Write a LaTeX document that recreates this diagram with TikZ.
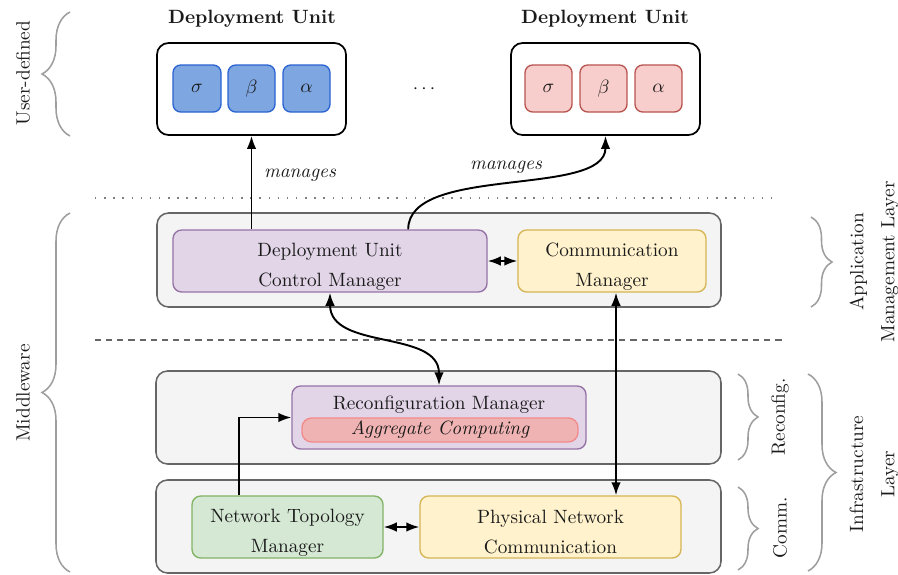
\documentclass[tikz,border=0pt]{standalone}
\usetikzlibrary{arrows.meta,decorations.pathreplacing,calc}

\definecolor{layerfill}{HTML}{F4F4F4}
\definecolor{layerdraw}{HTML}{666666}
\definecolor{bluefill}{HTML}{7EA6E0}
\definecolor{bluedraw}{HTML}{2A63D2}
\definecolor{redfill}{HTML}{F8CECC}
\definecolor{reddraw}{HTML}{B85450}
\definecolor{purplefill}{HTML}{E1D5E7}
\definecolor{purpledraw}{HTML}{9673A6}
\definecolor{yellowfill}{HTML}{FFF2CC}
\definecolor{yellowdraw}{HTML}{D6B656}
\definecolor{greenfill}{HTML}{D5E8D4}
\definecolor{greendraw}{HTML}{82B366}
\definecolor{aggfill}{HTML}{F0B3B3}
\definecolor{aggdraw}{HTML}{F28A8A}
\definecolor{bracecol}{HTML}{9E9E9E}
\definecolor{txt}{HTML}{1A1A1A}

\newcommand\unitpx{0.52pt}
% taller first line moves a two-line label slightly down inside its box
\newcommand\firststrut{\rule{0pt}{12.5pt}}

\tikzset{
  sz/.style 2 args={minimum width=#1*\unitpx, minimum height=#2*\unitpx, inner sep=0pt},
  layer/.style={draw=layerdraw, fill=layerfill, line width=0.8pt, rounded corners=6pt},
  unitbox/.style={draw=black, fill=white, line width=0.9pt, rounded corners=6pt},
  bluecell/.style={draw=bluedraw, fill=bluefill, line width=0.7pt, rounded corners=4pt, text=txt},
  redcell/.style={draw=reddraw, fill=redfill, line width=0.7pt, rounded corners=4pt, text=txt},
  comp/.style={line width=0.7pt, rounded corners=4.5pt, align=center, text=txt,
    font=\linespread{1.3}\selectfont},
  purplecomp/.style={comp, draw=purpledraw, fill=purplefill},
  yellowcomp/.style={comp, draw=yellowdraw, fill=yellowfill},
  greencomp/.style={comp, draw=greendraw, fill=greenfill},
  arr/.style={-{Latex[length=6.8pt,width=5pt]}, line width=1pt},
  darr/.style={{Latex[length=6.8pt,width=5pt]}-{Latex[length=6.8pt,width=5pt]}, line width=1pt},
  lbl/.style={font=\itshape, text=txt},
  bracedeco/.style={decorate, draw=bracecol, line width=0.8pt,
    decoration={brace, amplitude=#1*\unitpx}},
  sidelabel/.style={rotate=90, align=center, text=txt, font=\linespread{1.35}\selectfont},
}

\begin{document}
\begin{tikzpicture}[x=0.52pt, y=-0.52pt]
\useasboundingbox (0,0) rectangle (898,574);

% --- deployment units ---
\node[font=\bfseries, text=txt] (t1) at (252,19) {Deployment Unit};
\node[font=\bfseries, text=txt] (t2) at (605,19) {Deployment Unit};
\node[unitbox, sz={189}{92}] (du1) at (251.5,89) {};
\node[unitbox, sz={189}{92}] (du2) at (605.5,89) {};
\node[bluecell, sz={48}{47}] (s1) at (197,88.5) {$\sigma$};
\node[bluecell, sz={47}{47}] (b1) at (251.5,88.5) {$\beta$};
\node[bluecell, sz={47}{47}] (a1) at (306.5,88.5) {$\alpha$};
\node[redcell, sz={47}{47}] (s2) at (548.5,88.5) {$\sigma$};
\node[redcell, sz={47}{47}] (b2) at (603.5,88.5) {$\beta$};
\node[redcell, sz={47}{47}] (a2) at (658.5,88.5) {$\alpha$};
\node[text=txt] (dots) at (424,89) {$\cdots$};

% --- separators ---
\coordinate (dotL) at (95,198);
\coordinate (dotR) at (780,198);
\draw[draw=gray, line width=0.75pt, dash pattern=on 0.75pt off 4pt] (dotL) -- (dotR);
\coordinate (dashL) at (95,340);
\coordinate (dashR) at (785,340);
\draw[draw=layerdraw, line width=0.7pt, dash pattern=on 3.2pt off 2.6pt] (dashL) -- (dashR);

% --- application management layer ---
\node[layer, sz={564}{94}] (app) at (439,260) {};
\node[purplecomp, sz={314}{62}] (ducm) at (330,261) {\firststrut Deployment Unit\\Control Manager};
\node[yellowcomp, sz={188}{62}] (cm) at (612,261) {\firststrut Communication\\Manager};

% --- reconfiguration layer ---
\node[layer, sz={565}{93}] (reconf) at (438.5,417.5) {};
\node[purplecomp, sz={294}{63}] (rm) at (439,417.5) {};
\node[text=txt] (rmtext) at (439,404.5) {Reconfiguration Manager};
\node[draw=aggdraw, fill=aggfill, line width=0.7pt, rounded corners=5pt, sz={276}{24},
      font=\itshape, text=txt] (agg) at (440,430) {\raisebox{-1pt}{Aggregate Computing}};

% --- communication layer ---
\node[layer, sz={565}{93}] (comm) at (438.5,526.5) {};
\node[greencomp, sz={191}{62}] (ntm) at (287.5,527) {\firststrut Network Topology\\Manager};
\node[yellowcomp, sz={261}{62}] (pnc) at (550.5,527) {\firststrut Physical Network\\Communication};

% --- connectors ---
\draw[arr] (ducm.north -| du1.south) -- (du1.south);
\node[lbl] (m1) at (300,175) {manages};
\coordinate (cstart) at ($(ducm.north west)!0.748!(ducm.north east)$);
\draw[arr] (cstart) .. controls +(0,-65) and +(0,62) .. (du2.south);
\node[lbl] (m2) at (506,167) {manages};
\draw[darr] (ducm.east) -- (cm.west);
\draw[darr] (ducm.south) .. controls +(0,58) and +(0,-56) .. (rm.north);
\coordinate (cmb) at ($(cm.south)+(4,0)$);
\draw[darr] (cmb) -- (cmb |- pnc.north);
\coordinate (ntmt) at ($(ntm.north west)!0.25!(ntm.north east)$);
\draw[arr] (ntmt) |- (rm.west);
\draw[darr] (ntm.east) -- (pnc.west);

% --- braces and side labels ---
\coordinate (ubB) at (70,136);
\coordinate (ubT) at (70,12);
\draw[bracedeco=28] (ubB) -- (ubT);
\node[sidelabel] (udl) at (23,73) {User-defined};
\coordinate (mbB) at (70,572);
\coordinate (mbT) at (70,213);
\draw[bracedeco=28] (mbB) -- (mbT);
\node[sidelabel] (mwl) at (23,393) {Middleware};

\coordinate (abT) at (811,217);
\coordinate (abB) at (811,307);
\draw[bracedeco=21] (abT) -- (abB);
\node[sidelabel] (appl) at (874,262) {Application\\Management Layer};

\coordinate (rbT) at (738,374);
\coordinate (rbB) at (738,460);
\draw[bracedeco=20] (rbT) -- (rbB);
\node[sidelabel] (rcl) at (780,417) {Reconfig.};

\coordinate (cbT) at (738,487);
\coordinate (cbB) at (738,570);
\draw[bracedeco=20] (cbT) -- (cbB);
\node[sidelabel] (cml) at (780,528) {Comm.};

\coordinate (ibT) at (808,374);
\coordinate (ibB) at (808,571);
\draw[bracedeco=28] (ibT) -- (ibB);
\node[sidelabel] (infl) at (874,474) {Infrastructure\\Layer};
\end{tikzpicture}
\end{document}
